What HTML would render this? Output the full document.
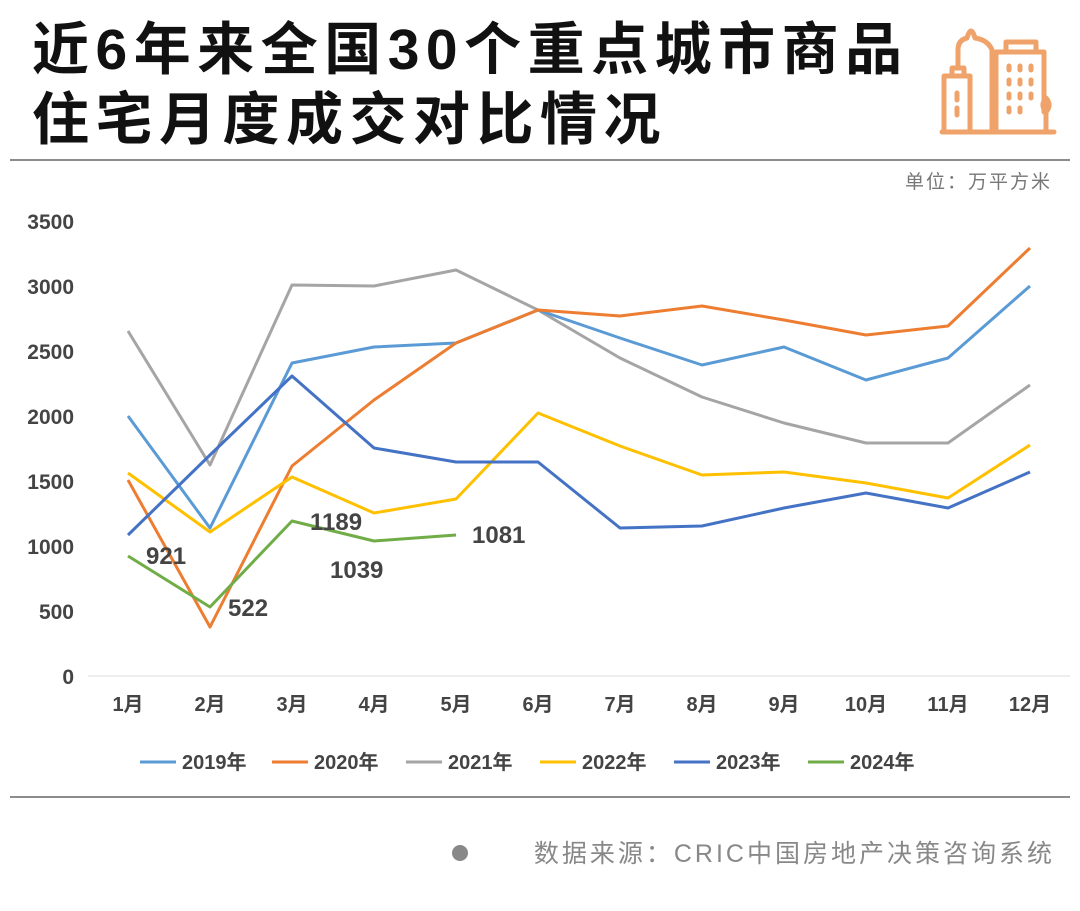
<!DOCTYPE html>
<html><head><meta charset="utf-8"><style>
body{margin:0;width:1080px;height:911px;background:#fff;font-family:"Liberation Sans","Noto Sans CJK SC",sans-serif;overflow:hidden;position:relative}
.t{position:absolute;left:32px;font-size:57px;font-weight:bold;color:#111;letter-spacing:6.5px;line-height:1}
</style></head><body>
<div class="t" style="top:22px">近6年来全国30个重点城市商品</div>
<div class="t" style="top:92px">住宅月度成交对比情况</div>
<svg width="1080" height="911" style="position:absolute;left:0;top:0" font-family="Liberation Sans, Noto Sans CJK SC, sans-serif">
<g fill="none" stroke="#EFA36A" stroke-width="5" stroke-linejoin="round" stroke-linecap="round">
<path d="M942 132H1054"/>
<path d="M944 132V76H970V132"/><path d="M952 76V68H964V76"/>
<path d="M958 68V50Q958 40 967 38Q971 24 975 38Q988 40 992 50V132"/>
<path d="M996 132V52H1044V112"/><path d="M1006 52V42H1036V52"/>
<path d="M957 93V100M957 108V115"/>
<path d="M1009 66V70M1020 66V70M1031 66V70M1009 80V84M1020 80V84M1031 80V84M1009 94V98M1020 94V98M1031 94V98M1009 108V112M1020 108V112"/>
<path d="M1046 132V110M1046 98Q1052 105 1046 112Q1040 105 1046 98Z"/>
</g>
<line x1="10" y1="160" x2="1070" y2="160" stroke="#666" stroke-width="1.5"/>
<text x="1052" y="188" font-size="19" fill="#777" text-anchor="end" letter-spacing="2">单位：万平方米</text>
<g font-size="21" fill="#444" font-weight="bold" text-anchor="end">
<text x="74" y="229">3500</text><text x="74" y="294">3000</text><text x="74" y="359">2500</text><text x="74" y="424">2000</text><text x="74" y="489">1500</text><text x="74" y="554">1000</text><text x="74" y="619">500</text><text x="74" y="684">0</text>
</g>
<line x1="88" y1="676" x2="1070" y2="676" stroke="#ddd"/>
<g font-size="20" fill="#444" font-weight="bold" text-anchor="middle">
<text x="128" y="711">1月</text><text x="210" y="711">2月</text><text x="292" y="711">3月</text><text x="374" y="711">4月</text><text x="456" y="711">5月</text><text x="538" y="711">6月</text><text x="620" y="711">7月</text><text x="702" y="711">8月</text><text x="784" y="711">9月</text><text x="866" y="711">10月</text><text x="948" y="711">11月</text><text x="1030" y="711">12月</text>
</g>
<g fill="none" stroke-width="3" stroke-linejoin="round">
<polyline stroke="#A5A5A5" points="128,331 210,465 292,285 374,286 456,270 538,310 620,358 702,397 784,423 866,443 948,443 1030,385"/>
<polyline stroke="#5B9BD5" points="128,416 210,528 292,363 374,347 456,343 538,310 620,338 702,365 784,347 866,380 948,358 1030,286"/>
<polyline stroke="#ED7D31" points="128,480 210,627 292,466 374,400 456,343 538,310 620,316 702,306 784,320 866,335 948,326 1030,248"/>
<polyline stroke="#FFC000" points="128,473 210,532 292,477 374,513 456,499 538,413 620,446 702,475 784,472 866,483 948,498 1030,445"/>
<polyline stroke="#4472C4" points="128,535 210,455 292,376 374,448 456,462 538,462 620,528 702,526 784,508 866,493 948,508 1030,472"/>
<polyline stroke="#70AD47" points="128,556 210,607 292,521 374,541 456,535"/>
</g>
<g font-size="24" fill="#444" font-weight="bold">
<text x="146" y="564">921</text><text x="228" y="616">522</text><text x="310" y="530">1189</text><text x="330" y="578">1039</text><text x="472" y="543">1081</text>
</g>
<g font-size="20" fill="#444" font-weight="bold">
<line x1="140" y1="762" x2="176" y2="762" stroke="#5B9BD5" stroke-width="3"/><text x="182" y="769">2019年</text>
<line x1="272" y1="762" x2="308" y2="762" stroke="#ED7D31" stroke-width="3"/><text x="314" y="769">2020年</text>
<line x1="406" y1="762" x2="442" y2="762" stroke="#A5A5A5" stroke-width="3"/><text x="448" y="769">2021年</text>
<line x1="540" y1="762" x2="576" y2="762" stroke="#FFC000" stroke-width="3"/><text x="582" y="769">2022年</text>
<line x1="674" y1="762" x2="710" y2="762" stroke="#4472C4" stroke-width="3"/><text x="716" y="769">2023年</text>
<line x1="808" y1="762" x2="844" y2="762" stroke="#70AD47" stroke-width="3"/><text x="850" y="769">2024年</text>
</g>
<line x1="10" y1="797" x2="1070" y2="797" stroke="#666" stroke-width="1.5"/>
<circle cx="460" cy="853" r="8" fill="#888"/>
<text x="1055" y="862" font-size="25" fill="#888" text-anchor="end" letter-spacing="3">数据来源：CRIC中国房地产决策咨询系统</text>
</svg>
</body></html>
